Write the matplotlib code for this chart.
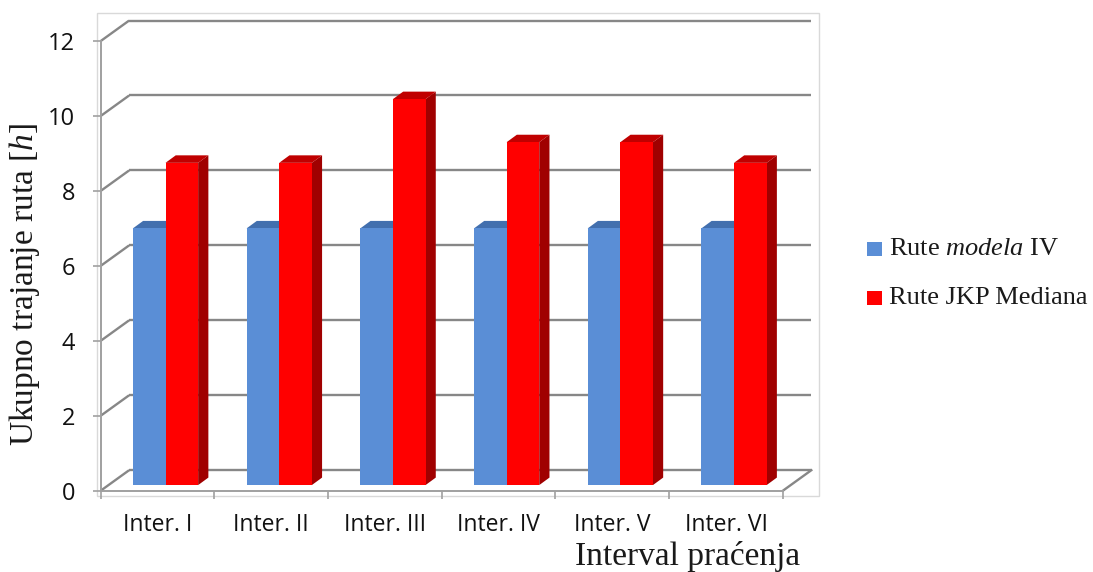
import matplotlib
matplotlib.use("Agg")
import matplotlib.pyplot as plt
from matplotlib.patches import Polygon, Rectangle

# ---- data -------------------------------------------------------------
categories = ["Inter. I", "Inter. II", "Inter. III", "Inter. IV", "Inter. V", "Inter. VI"]
model_iv = [6.85, 6.85, 6.85, 6.85, 6.85, 6.85]
jkp_mediana = [8.6, 8.6, 10.3, 9.15, 9.15, 8.6]
y_ticks = [0, 2, 4, 6, 8, 10, 12]
series_labels = ["Rute $\\mathit{modela}$ IV", "Rute JKP Mediana"]

# ---- style ------------------------------------------------------------
plt.rcParams["mathtext.fontset"] = "custom"
plt.rcParams["mathtext.rm"] = "Liberation Serif"
plt.rcParams["mathtext.it"] = "Liberation Serif:italic"
plt.rcParams["font.family"] = ["Open Sans", "DejaVu Sans"]

BLUE = ("#5a8ed6", "#426fae", "#2f5a94")   # front, top, side
RED = ("#ff0000", "#c00000", "#a00000")
GRID = "#878787"
AXIS = "#a0a0a0"

# 3-D look: depth of the walls and of a bar, in data units
WALL_DX, WALL_DY = 0.25, 0.547
BAR_SHIFT_X, BAR_SHIFT_Y = 0.07, 0.15
BAR_DX, BAR_DY = 0.09, 0.2
BAR_W = 0.287

W, H = 1093, 572
fig = plt.figure(figsize=(W / 100, H / 100), dpi=100)
ax = fig.add_axes([97 / W, 1 - 496 / H, 722 / W, 483.5 / H])
ax.set_xlim(-0.0325, 6.3175)
ax.set_ylim(-0.1414, 12.762)

n = len(categories)

# back wall gridlines and side-wall diagonals
for v in y_ticks:
    ax.plot([0, WALL_DX], [v, v + WALL_DY], color=GRID, lw=1.7, zorder=1,
            solid_capstyle="butt")
    ax.plot([WALL_DX, n + WALL_DX], [v + WALL_DY, v + WALL_DY], color=GRID,
            lw=1.7, zorder=1, solid_capstyle="butt")
# floor right edge
ax.plot([n, n + WALL_DX], [0, WALL_DY], color=GRID, lw=1.7, zorder=1)


def draw_bar(x0, value, colors):
    front, top, side = colors
    x1 = x0 + BAR_W
    y0 = BAR_SHIFT_Y
    y1 = BAR_SHIFT_Y + value
    ax.add_patch(Polygon([(x1, y0), (x1 + BAR_DX, y0 + BAR_DY),
                          (x1 + BAR_DX, y1 + BAR_DY), (x1, y1)],
                         closed=True, facecolor=side, edgecolor="none", zorder=3))
    ax.add_patch(Polygon([(x0, y1), (x0 + BAR_DX, y1 + BAR_DY),
                          (x1 + BAR_DX, y1 + BAR_DY), (x1, y1)],
                         closed=True, facecolor=top, edgecolor="none", zorder=3))
    ax.bar(x0, value, width=BAR_W, bottom=y0, align="edge", color=front,
           edgecolor="none", zorder=3)


for i in range(n):
    left = i + 0.5 + BAR_SHIFT_X - BAR_W
    draw_bar(left, model_iv[i], BLUE)
    draw_bar(left + BAR_W, jkp_mediana[i], RED)

# axes: front value axis and floor front edge
for s in ("top", "right"):
    ax.spines[s].set_visible(False)
ax.spines["left"].set_position(("data", 0))
ax.spines["left"].set_bounds(0, 12)
ax.spines["bottom"].set_position(("data", 0))
ax.spines["bottom"].set_bounds(0, n)
for s in ("left", "bottom"):
    ax.spines[s].set_color(AXIS)
    ax.spines[s].set_linewidth(1.4)
    ax.spines[s].set_zorder(2)

ax.set_yticks(y_ticks)
ax.set_yticklabels([str(t) for t in y_ticks])
ax.tick_params(axis="y", direction="out", length=5.5, width=1.2, color=AXIS,
               pad=13, labelsize=17, labelcolor="#111111")

ax.set_xticks(range(n + 1))
ax.set_xticklabels([])
ax.set_xticks([i + 0.5 for i in range(n)], minor=True)
ax.set_xticklabels(categories, minor=True)
ax.tick_params(axis="x", which="major", direction="out", length=5.5,
               width=1.2, color=AXIS)
ax.tick_params(axis="x", which="minor", length=0, pad=16, labelsize=16.5,
               labelcolor="#111111")

# plot-area border
ax.add_patch(Rectangle((0, 0), 1, 1, transform=ax.transAxes, fill=False,
                       edgecolor="#d9d9d9", lw=1.0, zorder=0, clip_on=False))

# axis titles
fig.text(25 / W, 1 - 285 / H, "Ukupno trajanje ruta [$h$]", rotation=90,
         ha="center", va="center", family="Liberation Serif", fontsize=24,
         color="#1a1a1a")
fig.text(688 / W, 1 - 556 / H, "Interval praćenja", ha="center", va="center",
         family="Liberation Serif", fontsize=24, color="#1a1a1a")

# legend
for k, (lab, col) in enumerate(zip(series_labels, (BLUE[0], RED[0]))):
    yc = 249 + 49 * k
    fig.patches.append(Rectangle((867 / W, 1 - (yc + 7) / H), 15 / W, 14 / H,
                                 transform=fig.transFigure, facecolor=col,
                                 edgecolor="none"))
    fig.text(889 / W, 1 - yc / H, lab, ha="left", va="center",
             family="Liberation Serif", fontsize=19, color="#1a1a1a")

fig.savefig("out.png", dpi=100)
